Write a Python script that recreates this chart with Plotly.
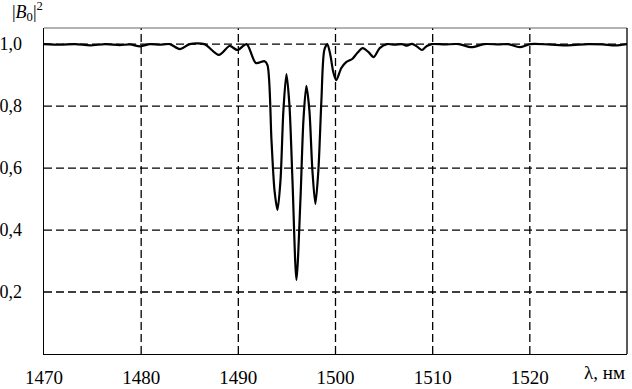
import plotly.graph_objects as go

# wavelength (nm) and |B0|^2
wavelength = [1470.0, 1471.7, 1473.2, 1474.75, 1476.3, 1477.8, 1478.85, 1479.9, 1480.9, 1481.9,
              1482.95, 1483.97, 1485.0, 1486.5, 1488.0, 1489.1, 1489.9, 1490.85, 1491.8, 1492.7,
              1493.0, 1493.41, 1493.72, 1494.03, 1494.34, 1494.64, 1494.95, 1495.26, 1495.57, 1495.98,
              1496.39, 1496.70, 1497.0, 1497.31, 1497.62, 1497.93, 1498.24, 1498.55, 1498.85, 1499.16,
              1499.47, 1499.77, 1500.08, 1500.6, 1501.1, 1501.72, 1502.24, 1502.8, 1503.4, 1503.93,
              1504.55, 1505.3, 1506.1, 1506.85, 1507.35, 1507.87, 1508.4, 1508.9, 1509.4, 1509.93,
              1511.2, 1512.7, 1514.0, 1515.3, 1516.8, 1517.8, 1518.95, 1520.05, 1521.9, 1523.9,
              1526.0, 1527.5, 1528.8, 1530.0]
transmission = [1.0, 0.998, 1.0, 0.996, 1.0, 0.997, 0.999, 0.993, 1.0, 0.998,
                1.0, 0.984, 1.0, 1.0, 0.965, 0.994, 0.981, 1.0, 0.939, 0.945,
                0.932, 0.690, 0.529, 0.465, 0.561, 0.787, 0.903, 0.803, 0.561, 0.239,
                0.497, 0.755, 0.865, 0.787, 0.594, 0.484, 0.594, 0.819, 0.981, 1.0,
                0.965, 0.910, 0.884, 0.923, 0.942, 0.952, 0.971, 0.987, 0.974, 0.958,
                0.987, 1.0, 0.998, 1.0, 0.995, 1.001, 0.992, 0.981, 0.994, 1.0,
                0.999, 1.0, 0.990, 1.0, 0.999, 1.0, 0.990, 1.0, 0.999, 0.996,
                1.0, 0.999, 0.996, 1.0]

x_ticks = [1470, 1480, 1490, 1500, 1510, 1520]
x_ticklabels = ["1470", "1480", "1490", "1500", "1510", "1520"]
y_ticks = [0.2, 0.4, 0.6, 0.8, 1.0]
y_ticklabels = ["0,2", "0,4", "0,6", "0,8", "1,0"]
grid_x = [1480, 1490, 1500, 1510, 1520]

FONT = "Liberation Serif, Times New Roman, Times, DejaVu Serif, serif"

fig = go.Figure()
fig.add_trace(go.Scatter(x=wavelength, y=transmission, mode="lines",
                         line=dict(color="black", width=2.2, shape="spline", smoothing=0.8),
                         showlegend=False, hoverinfo="skip"))

shapes = []
for gx in grid_x:
    shapes.append(dict(type="line", xref="x", yref="paper", x0=gx, x1=gx, y0=0, y1=1,
                       line=dict(color="black", width=1.3, dash="8px,4px"), layer="below"))
for gy in y_ticks:
    shapes.append(dict(type="line", xref="paper", yref="y", x0=0, x1=1, y0=gy, y1=gy,
                       line=dict(color="black", width=1.3, dash="8px,4px"), layer="below"))
# top frame line (lighter)
shapes.append(dict(type="line", xref="paper", yref="paper", x0=0, x1=1, y0=1, y1=1,
                   line=dict(color="#666666", width=1)))
# right frame line
shapes.append(dict(type="line", xref="paper", yref="paper", x0=1, x1=1, y0=0, y1=1,
                   line=dict(color="black", width=1.3)))

fig.update_layout(
    width=632, height=389,
    margin=dict(l=44, r=5, t=28, b=35, autoexpand=False),
    paper_bgcolor="white", plot_bgcolor="white",
    font=dict(family=FONT, size=18, color="black"),
    shapes=shapes,
    xaxis=dict(range=[1470, 1530], tickvals=x_ticks, ticktext=x_ticklabels, automargin=False,
               showgrid=False, zeroline=False, showline=True, linecolor="black", linewidth=1.3,
               ticks="", ticklabelstandoff=6, tickfont=dict(family=FONT, size=19)),
    yaxis=dict(range=[0, 1.052], tickvals=y_ticks, ticktext=y_ticklabels, automargin=False,
               showgrid=False, zeroline=False, showline=True, linecolor="black", linewidth=1.3,
               ticks="", ticklabelstandoff=17, tickfont=dict(family=FONT, size=18)),
    annotations=[
        dict(text="|<i>B</i><sub>0</sub>|<sup>2</sup>", xref="paper", yref="paper",
             x=-0.058, y=1.0, xanchor="left", yanchor="bottom", yshift=2, showarrow=False,
             font=dict(family=FONT, size=18)),
        dict(text="λ, нм", xref="paper", yref="paper", x=1.0, y=0, xanchor="right",
             yanchor="top", yshift=-6, showarrow=False, font=dict(family=FONT, size=19)),
    ],
)

fig.write_html("out.html",
               config={"displayModeBar": False, "staticPlot": True},
               post_script="document.body.style.margin='0';document.body.style.padding='0';"
                           "document.body.style.overflow='hidden';")
